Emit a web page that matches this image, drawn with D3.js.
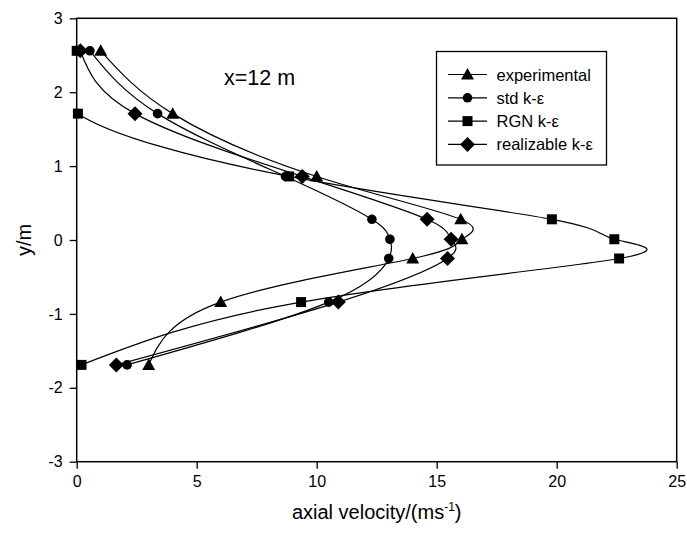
<!DOCTYPE html>
<html>
<head>
<meta charset="utf-8">
<script src="https://cdn.jsdelivr.net/npm/d3@7"></script>
<style>
  body { margin: 0; background: #fff; }
  svg { display: block; }
  text { font-family: "Liberation Sans", Arial, sans-serif; fill: #000; }
</style>
</head>
<body>
<svg id="chart" width="687" height="539"></svg>
<script>
// Axial velocity profiles at x = 12 m (velocity in m/s, radial position y in m)
const yPositions = [2.56, 1.71, 0.86, 0.28, 0.01, -0.25, -0.84, -1.69];

const experimental = [1.0, 4.0, 10.0, 16.0, 16.05, 14.0, 6.0, 3.0];
const stdKe        = [0.55, 3.37, 8.7, 12.3, 13.05, 13.0, 10.5, 2.1];
const rgnKe        = [0.0, 0.05, 8.85, 19.8, 22.4, 22.6, 9.35, 0.2];
const realizableKe = [0.15, 2.43, 9.4, 14.6, 15.6, 15.45, 10.9, 1.65];

const seriesNames = ["experimental", "std k-\u03b5", "RGN k-\u03b5", "realizable k-\u03b5"];
const seriesSymbols = ["triangle", "circle", "square", "diamond"];

const xTicks = [0, 5, 10, 15, 20, 25];
const yTicks = [-3, -2, -1, 0, 1, 2, 3];

const series = [experimental, stdKe, rgnKe, realizableKe].map((vals, i) => ({
  name: seriesNames[i],
  symbol: seriesSymbols[i],
  points: vals.map((v, j) => ({ x: v, y: yPositions[j] }))
}));

const svg = d3.select("#chart");
const margin = { left: 76.7, right: 10.3, top: 18.3, bottom: 77.3 };
const W = 687, H = 539;
const x = d3.scaleLinear().domain([0, 25]).range([margin.left, W - margin.right]);
const y = d3.scaleLinear().domain([-3, 3]).range([H - margin.bottom, margin.top]);

svg.append("defs").append("clipPath").attr("id", "plotClip")
  .append("rect")
  .attr("x", x(0)).attr("y", y(3))
  .attr("width", x(25) - x(0)).attr("height", y(-3) - y(3));

// axes: ticks point outward, labels use a plain hyphen for negatives
const fmt = d => String(d);
const xAxis = svg.append("g")
  .attr("transform", `translate(0,${y(-3)})`)
  .call(d3.axisBottom(x).tickValues(xTicks).tickSize(7).tickPadding(7).tickFormat(fmt));
const yAxis = svg.append("g")
  .attr("transform", `translate(${x(0)},0)`)
  .call(d3.axisLeft(y).tickValues(yTicks).tickSize(7).tickPadding(7).tickFormat(fmt));
[xAxis, yAxis].forEach(g => {
  g.select(".domain").remove();
  g.selectAll("line").attr("stroke", "#000").attr("stroke-width", 1.3);
  g.selectAll("text").attr("font-size", 16).attr("font-family", "Liberation Sans, Arial, sans-serif");
});

// frame
svg.append("rect")
  .attr("x", x(0)).attr("y", y(3))
  .attr("width", x(25) - x(0)).attr("height", y(-3) - y(3))
  .attr("fill", "none").attr("stroke", "#000").attr("stroke-width", 1.5);

// axis titles
const xt = svg.append("text")
  .attr("x", (x(0) + x(25)) / 2).attr("y", 519)
  .attr("text-anchor", "middle").attr("font-size", 20);
xt.append("tspan").text("axial velocity/(ms");
xt.append("tspan").attr("font-size", 12).attr("dy", -8).text("-1");
xt.append("tspan").attr("dy", 8).text(")");

svg.append("text")
  .attr("transform", `translate(31,${y(0)}) rotate(-90)`)
  .attr("text-anchor", "middle").attr("font-size", 20)
  .text("y/m");

svg.append("text")
  .attr("x", 224).attr("y", 85)
  .attr("font-size", 21.5)
  .text("x=12 m");

// symbols
function drawSymbol(g, type, cx, cy) {
  if (type === "circle") {
    g.append("circle").attr("cx", cx).attr("cy", cy).attr("r", 4.8).attr("fill", "#000");
  } else if (type === "square") {
    g.append("rect").attr("x", cx - 5).attr("y", cy - 5).attr("width", 10).attr("height", 10).attr("fill", "#000");
  } else if (type === "triangle") {
    g.append("path").attr("d", `M${cx},${cy - 6.5}L${cx + 6.5},${cy + 5}L${cx - 6.5},${cy + 5}Z`).attr("fill", "#000");
  } else if (type === "diamond") {
    g.append("path").attr("d", `M${cx},${cy - 7.5}L${cx + 7.5},${cy}L${cx},${cy + 7.5}L${cx - 7.5},${cy}Z`).attr("fill", "#000");
  }
}

// smooth profile curves
const line = d3.line()
  .x(d => x(d.x)).y(d => y(d.y))
  .curve(d3.curveNatural);

const plot = svg.append("g").attr("clip-path", "url(#plotClip)");
series.forEach(s => {
  plot.append("path")
    .attr("d", line(s.points))
    .attr("fill", "none").attr("stroke", "#000").attr("stroke-width", 1.2);
});
const marks = svg.append("g");
series.forEach(s => {
  s.points.forEach(p => drawSymbol(marks, s.symbol, x(p.x), y(p.y)));
});

// legend
const lg = svg.append("g");
lg.append("rect")
  .attr("x", 436.5).attr("y", 51.5).attr("width", 170).attr("height", 113.5)
  .attr("fill", "#fff").attr("stroke", "#000").attr("stroke-width", 1.3);
series.forEach((s, i) => {
  const ry = 74.5 + i * 23.3;
  lg.append("line").attr("x1", 448).attr("x2", 487).attr("y1", ry).attr("y2", ry)
    .attr("stroke", "#000").attr("stroke-width", 1.2);
  drawSymbol(lg, s.symbol, 467.5, ry);
  lg.append("text").attr("x", 496.5).attr("y", ry + 6).attr("font-size", 16.5).text(s.name);
});
</script>
</body>
</html>
